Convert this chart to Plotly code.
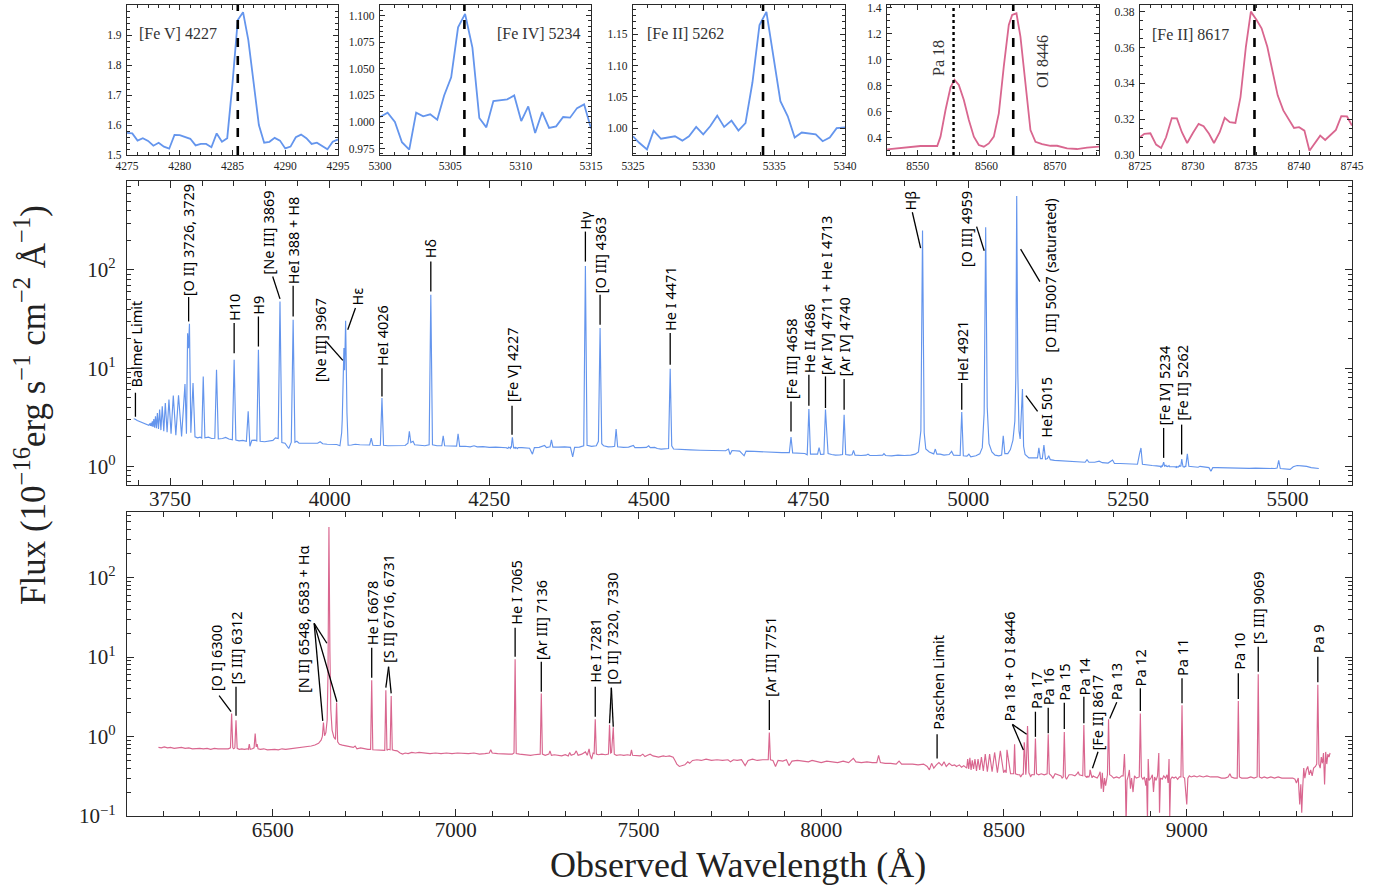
import math
import plotly.graph_objects as go

W, H = 1382, 888
BLUE = "#6495ED"
PINK = "#D9668F"
SERIF = "Liberation Serif, DejaVu Serif, serif"
SANS = "Noto Sans, DejaVu Sans, sans-serif"
AXC = "#2a2a2a"

# ---------------- DATA ----------------
# Blue arm spectrum (observed wavelength [A], flux [1e-16 erg/s/cm2/A])
blue_spectrum = [
    (3693.0, 3.05), (3695.5, 3.02), (3698.5, 2.93), (3701.5, 2.88), (3704.5, 2.80), (3707.5, 2.77),
    (3710.5, 2.70), (3713.5, 2.67), (3716.5, 2.62), (3718.3, 2.72), (3719.2, 2.58), (3720.1, 2.78),
    (3721.1, 2.56), (3722.2, 2.87), (3723.3, 2.52), (3724.5, 3.03), (3725.8, 2.48), (3727.1, 3.23),
    (3728.6, 2.44), (3730.1, 3.49), (3731.8, 2.40), (3733.6, 3.78), (3735.6, 2.34), (3737.7, 4.08),
    (3740.1, 2.28), (3742.5, 4.42), (3745.3, 2.22), (3748.2, 4.78), (3751.5, 2.15), (3755.0, 5.25),
    (3759.0, 2.08), (3763.2, 5.3), (3768.0, 2.02), (3773.3, 6.9), (3775.6, 2.15), (3777.4, 22.7),
    (3778.8, 16.0), (3780.3, 28.3), (3782.5, 2.2), (3785.9, 7.05), (3789.0, 2.0), (3793.0, 1.95),
    (3797.0, 1.98), (3799.5, 1.94), (3801.9, 8.24), (3804.5, 1.95), (3810.0, 1.98), (3815.0, 1.92),
    (3820.0, 1.93), (3822.7, 9.63), (3825.5, 1.90), (3832.0, 1.92), (3837.0, 1.97), (3842.0, 1.90),
    (3847.5, 1.86), (3850.3, 12.2), (3853.0, 1.85), (3858.0, 1.82), (3864.0, 1.84), (3869.5, 1.80),
    (3872.3, 3.63), (3875.0, 1.60), (3878.0, 1.84), (3883.0, 1.85), (3885.8, 1.82), (3888.3, 15.4),
    (3891.0, 1.80), (3898.0, 1.78), (3905.0, 1.80), (3911.0, 1.84), (3915.0, 1.95), (3919.3, 1.92),
    (3922.1, 47.8), (3925.0, 1.75), (3930.0, 1.72), (3935.8, 1.52), (3939.8, 1.76), (3942.7, 31.1),
    (3945.5, 1.76), (3948.5, 1.80), (3952.0, 1.72), (3960.0, 1.72), (3968.0, 1.70), (3976.0, 1.71),
    (3981.0, 1.72), (3985.0, 1.78), (3989.0, 1.70), (3996.0, 1.68), (4004.0, 1.66), (4011.0, 1.67),
    (4016.0, 1.62), (4018.7, 2.2), (4019.6, 2.99), (4022.2, 16.0), (4023.3, 9.5), (4024.9, 30.3),
    (4027.0, 3.5), (4028.8, 1.64), (4034.0, 1.65), (4040.0, 1.68), (4047.0, 1.66), (4055.0, 1.64),
    (4062.5, 1.65), (4065.0, 1.94), (4067.5, 1.64), (4074.0, 1.63), (4079.3, 1.64), (4081.8, 4.96),
    (4084.3, 1.64), (4091.0, 1.62), (4100.0, 1.63), (4110.0, 1.64), (4118.0, 1.63), (4122.5, 1.72),
    (4124.7, 2.27), (4127.0, 1.75), (4130.5, 1.80), (4133.0, 1.66), (4140.0, 1.63), (4149.0, 1.62),
    (4155.7, 1.66), (4158.3, 55.8), (4160.9, 1.66), (4168.0, 1.62), (4175.5, 1.62), (4177.7, 2.05),
    (4180.0, 1.62), (4190.0, 1.61), (4198.7, 1.61), (4201.0, 2.15), (4203.5, 1.60), (4212.0, 1.60),
    (4220.0, 1.58), (4226.0, 1.62), (4231.0, 1.58), (4240.0, 1.59), (4250.0, 1.56), (4260.0, 1.57),
    (4268.0, 1.56),
    (4301.0, 1.55), (4308.0, 1.54), (4313.0, 1.53), (4317.5, 1.33), (4320.5, 1.55), (4328.0, 1.56),
    (4336.5, 1.63), (4339.5, 1.55), (4345.0, 1.58), (4347.2, 1.86), (4349.5, 1.57), (4358.0, 1.57),
    (4368.0, 1.58), (4377.0, 1.56), (4380.5, 1.25), (4383.5, 1.56), (4391.0, 1.57), (4397.8, 1.62),
    (4400.4, 110.0), (4403.0, 1.64), (4410.0, 1.60), (4417.5, 1.62), (4420.8, 1.80), (4423.4, 25.6),
    (4426.0, 1.70), (4429.0, 1.62), (4436.0, 1.58), (4443.0, 1.59), (4446.2, 1.60), (4448.5, 2.40),
    (4450.9, 1.58), (4460.0, 1.56), (4468.0, 1.57), (4475.5, 1.63), (4478.0, 1.55), (4487.0, 1.55),
    (4496.0, 1.56), (4499.5, 1.62), (4502.0, 1.55), (4509.0, 1.56), (4513.0, 1.52), (4519.0, 1.50),
    (4525.0, 1.52), (4530.6, 1.52), (4533.2, 9.86), (4535.6, 1.62), (4538.5, 1.50), (4550.0, 1.48),
    (4565.0, 1.47), (4580.0, 1.46), (4595.0, 1.46), (4610.0, 1.45), (4620.0, 1.44), (4624.5, 1.50),
    (4627.0, 1.32), (4630.0, 1.45), (4642.0, 1.43), (4649.0, 1.28), (4652.0, 1.43), (4665.0, 1.42),
    (4680.0, 1.40), (4695.0, 1.39), (4708.0, 1.38), (4719.8, 1.38), (4722.4, 1.99), (4725.0, 1.37),
    (4735.0, 1.36), (4744.0, 1.35), (4747.8, 1.31), (4750.4, 3.84), (4752.9, 1.33), (4760.0, 1.32),
    (4764.0, 1.33), (4766.4, 1.55), (4768.8, 1.32), (4773.9, 1.33), (4776.4, 3.8), (4778.3, 2.3),
    (4780.5, 1.35), (4786.0, 1.32), (4792.0, 1.30), (4799.0, 1.31), (4803.1, 1.32), (4805.6, 3.36),
    (4808.1, 1.32), (4814.0, 1.30), (4818.0, 1.31), (4820.3, 1.45), (4822.7, 1.30), (4832.0, 1.29),
    (4840.0, 1.30), (4843.0, 1.33), (4846.0, 1.29), (4856.0, 1.29), (4866.0, 1.30), (4868.0, 1.35),
    (4870.5, 1.29), (4880.0, 1.28), (4890.0, 1.30), (4900.0, 1.29), (4910.0, 1.30), (4917.0, 1.33),
    (4922.0, 1.40), (4925.8, 2.3), (4928.4, 252.0), (4931.0, 2.2), (4933.5, 1.50), (4939.0, 1.40),
    (4945.9, 1.34), (4948.4, 1.50), (4950.9, 1.33), (4956.0, 1.33), (4962.0, 1.30), (4970.0, 1.32),
    (4974.0, 1.42), (4977.0, 1.30), (4985.0, 1.28), (4987.3, 1.29), (4989.8, 3.58), (4992.3, 1.28),
    (4998.0, 1.27), (5001.0, 1.33), (5004.0, 1.25), (5012.0, 1.28), (5018.0, 1.34), (5022.0, 1.55),
    (5024.9, 3.5), (5027.3, 272.0), (5029.7, 4.0), (5032.5, 1.7), (5037.0, 1.40), (5042.0, 1.30),
    (5048.0, 1.28), (5052.3, 1.30), (5054.8, 2.05), (5057.3, 1.35), (5062.0, 1.35), (5066.0, 1.48),
    (5070.0, 1.85), (5073.0, 2.9), (5074.5, 8.0), (5075.9, 567.0), (5077.6, 9.0), (5079.5, 2.3),
    (5081.3, 1.9), (5083.2, 3.6), (5084.9, 6.13), (5086.7, 1.6), (5089.0, 1.32), (5095.0, 1.22),
    (5103.0, 1.21), (5108.5, 1.22), (5110.6, 1.54), (5113.0, 1.20), (5116.0, 1.20), (5118.5, 1.65),
    (5121.0, 1.18), (5124.0, 1.20), (5126.0, 1.28), (5128.5, 1.17), (5135.0, 1.15), (5145.0, 1.14),
    (5155.0, 1.13), (5165.0, 1.12), (5175.0, 1.11), (5183.0, 1.10), (5186.0, 1.17), (5189.0, 1.10),
    (5198.0, 1.10), (5205.0, 1.13), (5210.0, 1.09), (5219.0, 1.08), (5226.0, 1.16), (5229.0, 1.07),
    (5238.0, 1.07), (5248.0, 1.06), (5257.0, 1.05), (5265.0, 1.05), (5268.3, 1.35), (5270.5, 1.54),
    (5272.8, 1.05), (5280.0, 1.03), (5288.0, 1.02), (5295.0, 1.01),
    (5318.0, 1.00), (5321.0, 0.99),
    (5340.7, 1.00), (5343.1, 1.34), (5345.5, 1.00), (5352.0, 0.99), (5360.0, 0.98), (5363.0, 1.00),
    (5370.0, 0.98), (5377.0, 0.97), (5380.0, 0.89), (5383.0, 0.97), (5390.0, 0.97), (5400.0, 0.965),
    (5410.0, 0.97), (5420.0, 0.96), (5430.0, 0.965), (5440.0, 0.955), (5450.0, 0.96), (5460.0, 0.955),
    (5470.0, 0.95), (5480.0, 0.95), (5483.7, 0.96), (5486.2, 1.15), (5488.7, 0.95), (5495.0, 0.94),
    (5500.0, 0.92), (5504.0, 0.93), (5509.0, 0.99), (5515.0, 1.02), (5522.0, 1.01), (5530.0, 1.00),
    (5537.0, 0.97), (5544.0, 0.96), (5549.0, 0.95),
]

# Red arm spectrum
red_spectrum = [
    (6187, 0.73), (6195, 0.72), (6203, 0.74), (6212, 0.72), (6220, 0.73), (6230, 0.71), (6240, 0.72),
    (6250, 0.73), (6260, 0.71), (6270, 0.72), (6280, 0.70), (6290, 0.71), (6300, 0.71), (6310, 0.70),
    (6320, 0.71), (6330, 0.69), (6340, 0.71), (6350, 0.70), (6360, 0.70), (6370, 0.69), (6378, 0.70),
    (6384, 0.72), (6387.2, 1.95), (6390.4, 0.72), (6393, 0.70), (6396, 0.72), (6399.2, 1.60),
    (6402.4, 0.71), (6408, 0.69), (6415, 0.70), (6422, 0.69), (6430, 0.70), (6433, 0.69), (6435.5, 0.80),
    (6438, 0.69), (6444, 0.70), (6448.6, 0.72), (6451.6, 1.09), (6454.5, 0.74), (6457, 0.80),
    (6459.5, 0.70), (6466, 0.69), (6475, 0.70), (6485, 0.68), (6495, 0.69), (6505, 0.69), (6515, 0.68),
    (6525, 0.70), (6535, 0.69), (6545, 0.70), (6555, 0.71), (6565, 0.71), (6575, 0.72), (6585, 0.73),
    (6595, 0.74), (6605, 0.76), (6615, 0.78), (6625, 0.82), (6632, 0.90), (6635.4, 1.0), (6638.4, 1.50),
    (6641.4, 1.02), (6645, 1.12), (6648.5, 1.6), (6650.8, 6.0), (6653.4, 433.0), (6656, 12.0),
    (6658.5, 2.2), (6662, 1.20), (6667, 0.98), (6671.3, 0.92), (6674.3, 2.68), (6677.3, 0.86),
    (6682, 0.80), (6690, 0.78), (6700, 0.76), (6710, 0.75), (6720, 0.73), (6725, 0.76), (6730, 0.70),
    (6740, 0.72), (6750, 0.70), (6760, 0.69), (6767.4, 0.69), (6770.4, 5.11), (6773.4, 0.68),
    (6780, 0.68), (6790, 0.67), (6800, 0.67), (6806.1, 0.67), (6809.1, 3.82), (6812.1, 0.67),
    (6816, 0.69), (6820.7, 0.68), (6823.7, 3.24), (6826.7, 0.68), (6832, 0.67), (6840, 0.66),
    (6848, 0.62), (6855, 0.60), (6862, 0.62), (6870, 0.61), (6880, 0.63), (6890, 0.62), (6900, 0.63),
    (6915, 0.62), (6930, 0.61), (6945, 0.62), (6960, 0.61), (6975, 0.62), (6990, 0.61), (7005, 0.62),
    (7020, 0.61), (7035, 0.61), (7050, 0.62), (7065, 0.60), (7080, 0.61), (7092, 0.62), (7096, 0.68),
    (7100, 0.62), (7115, 0.61), (7130, 0.60), (7145, 0.60), (7155, 0.60), (7159.7, 0.62),
    (7162.7, 9.38), (7165.7, 0.61), (7175, 0.60), (7190, 0.59), (7205, 0.58), (7215, 0.59),
    (7226, 0.59), (7231.3, 0.60), (7234.3, 3.47), (7237.3, 0.60), (7245, 0.58), (7255, 0.60),
    (7258, 0.66), (7262, 0.58), (7270, 0.59), (7280, 0.58), (7290, 0.57), (7300, 0.59), (7308, 0.57),
    (7312, 0.63), (7316, 0.58), (7325, 0.60), (7330, 0.66), (7335, 0.58), (7345, 0.60), (7355, 0.64),
    (7360, 0.58), (7365, 0.70), (7368, 0.58), (7372, 0.52), (7376, 0.62), (7378.9, 0.61),
    (7381.9, 1.65), (7384.9, 0.60), (7390, 0.59), (7400, 0.60), (7410, 0.59), (7418, 0.60),
    (7421.0, 1.40), (7424, 0.62), (7426.5, 0.63), (7431.2, 1.31), (7434, 0.60), (7440, 0.58),
    (7450, 0.59), (7460, 0.58), (7470, 0.59), (7478, 0.58), (7481, 0.68), (7484, 0.58), (7495, 0.58),
    (7505, 0.57), (7512, 0.60), (7518, 0.56), (7525, 0.58), (7532, 0.60), (7540, 0.57), (7555, 0.55),
    (7568, 0.57), (7575, 0.56), (7585, 0.57), (7595, 0.55), (7600, 0.50), (7605, 0.45), (7612, 0.42),
    (7620, 0.43), (7627, 0.44), (7635, 0.48), (7640, 0.46), (7648, 0.50), (7660, 0.51), (7672, 0.50),
    (7685, 0.52), (7700, 0.50), (7715, 0.51), (7730, 0.50), (7745, 0.51), (7752, 0.48), (7760, 0.51),
    (7770, 0.50), (7782, 0.51), (7792, 0.43), (7800, 0.50), (7812, 0.52), (7825, 0.50), (7840, 0.51),
    (7855.1, 0.51), (7858.1, 1.12), (7861.1, 0.51), (7868, 0.50), (7875, 0.42), (7882, 0.50),
    (7895, 0.49), (7905, 0.51), (7912, 0.43), (7920, 0.49), (7935, 0.50), (7950, 0.49), (7965, 0.48),
    (7975, 0.50), (7990, 0.48), (8000, 0.47), (8015, 0.49), (8030, 0.48), (8045, 0.47), (8060, 0.49),
    (8075, 0.47), (8088, 0.53), (8095, 0.48), (8110, 0.47), (8125, 0.48), (8140, 0.47), (8152, 0.47),
    (8157, 0.58), (8162, 0.47), (8175, 0.46), (8190, 0.46), (8205, 0.45), (8213, 0.49), (8220, 0.45),
    (8235, 0.45), (8250, 0.45), (8265, 0.44), (8280, 0.45), (8290, 0.42), (8296, 0.38), (8302, 0.46),
    (8308, 0.40), (8315, 0.44), (8322, 0.47), (8330, 0.43), (8336, 0.48), (8342, 0.42), (8350, 0.46),
    (8358, 0.43), (8365, 0.44), (8370, 0.42), (8378, 0.44), (8384, 0.41), (8390, 0.43), (8398, 0.40),
    (8400.7, 0.52), (8403.5, 0.39), (8406.7, 0.54), (8410, 0.38), (8413.3, 0.50), (8416.8, 0.39),
    (8420.6, 0.52), (8424.8, 0.37), (8429.0, 0.52), (8433.5, 0.38), (8438.3, 0.55), (8443.5, 0.37),
    (8448.8, 0.60), (8454.5, 0.36), (8460.7, 0.60), (8467.5, 0.36), (8474.4, 0.63), (8482, 0.35),
    (8490.0, 0.66), (8499, 0.35), (8503, 0.38), (8506, 0.35), (8508.2, 0.68), (8518, 0.34),
    (8526.5, 0.34), (8529.0, 0.80), (8531.5, 0.34), (8538, 0.33), (8543, 0.33),
    (8580, 0.33), (8583, 0.33), (8586, 0.94), (8589, 0.34), (8595, 0.33), (8602, 0.34), (8610, 0.33),
    (8618, 0.34), (8621, 1.07), (8624, 0.34), (8630, 0.32), (8634, 0.30), (8640, 0.34), (8650, 0.33),
    (8656, 0.32), (8659, 0.30), (8662, 0.31), (8665, 1.14), (8668, 0.31), (8671, 0.29), (8678, 0.33),
    (8686, 0.33), (8694, 0.32), (8700, 0.34), (8703, 0.36), (8706, 0.33), (8712, 0.32), (8715.5, 0.32),
    (8718.5, 1.40), (8721.5, 0.32),
    (8750, 0.31), (8755, 0.30), (8760, 0.33), (8763, 0.36), (8766, 0.22), (8769, 0.35), (8772, 0.20),
    (8775, 0.30), (8778, 0.24), (8781, 0.32), (8783, 0.33), (8786, 1.65), (8789, 0.33), (8794, 0.32),
    (8800, 0.30), (8808, 0.31), (8815, 0.30), (8822, 0.32), (8826, 0.32), (8829.5, 0.60), (8832, 0.30),
    (8834, 0.08), (8836.5, 0.28), (8840, 0.32), (8843, 0.38), (8846, 0.22), (8849, 0.30), (8853, 0.20),
    (8857, 0.32), (8862, 0.30), (8867, 0.31), (8870, 0.31), (8873, 1.95), (8876, 0.31), (8880, 0.29),
    (8884, 0.31), (8888, 0.24), (8890, 0.30), (8892.5, 0.09), (8894.5, 0.52), (8897, 0.28), (8902, 0.30),
    (8906, 0.33), (8909, 0.20), (8912, 0.31), (8916, 0.28), (8920, 0.32), (8923.5, 0.62), (8925.5, 0.11),
    (8928, 0.30), (8933, 0.29), (8937, 0.32), (8942, 0.30), (8946, 0.33), (8949, 0.26), (8951.5, 0.52),
    (8953.5, 0.10), (8956, 0.29), (8960, 0.31), (8965, 0.30), (8970, 0.31), (8975, 0.29), (8980, 0.31),
    (8984, 0.31), (8987, 2.48), (8990, 0.31), (8994, 0.30), (8997, 0.20), (9000, 0.14), (9003, 0.30),
    (9007, 0.32), (9012, 0.31), (9020, 0.32), (9028, 0.31), (9035, 0.32), (9045, 0.31), (9055, 0.32),
    (9065, 0.31), (9075, 0.31), (9085, 0.31), (9095, 0.30), (9105, 0.30), (9113, 0.31), (9118, 0.34),
    (9122, 0.31), (9130, 0.30), (9138, 0.30), (9141, 2.80), (9144, 0.31), (9150, 0.30), (9158, 0.30),
    (9166, 0.30), (9175, 0.31), (9184, 0.30), (9192.5, 0.31), (9195.5, 6.08), (9198.5, 0.31),
    (9205, 0.30), (9212, 0.31), (9220, 0.30), (9230, 0.31), (9240, 0.30), (9250, 0.31), (9260, 0.30),
    (9270, 0.30), (9280, 0.30), (9290, 0.30), (9296, 0.29), (9300, 0.26), (9305, 0.30), (9309, 0.14),
    (9312, 0.25), (9314.5, 0.11), (9317, 0.22), (9320, 0.40), (9323, 0.30), (9327, 0.38), (9331, 0.42),
    (9335, 0.33), (9339, 0.38), (9343, 0.32), (9347, 0.40), (9352, 0.42), (9355.5, 0.45),
    (9358.5, 4.46), (9361.5, 0.45), (9365, 0.40), (9368, 0.55), (9371, 0.46), (9374, 0.62),
    (9377, 0.25), (9380, 0.64), (9383, 0.45), (9386, 0.60), (9389, 0.55), (9392, 0.62),
]

# Inset zooms
inset1_wl = [4275.0, 4275.5, 4276.0, 4276.5, 4277.0, 4277.5, 4278.0, 4278.5, 4279.0, 4279.5, 4280.0,
             4280.5, 4281.0, 4281.5, 4282.0, 4282.5, 4283.0, 4283.5, 4284.0, 4284.5, 4285.0, 4285.5,
             4286.0, 4286.5, 4287.0, 4287.5, 4288.0, 4288.5, 4289.0, 4289.5, 4290.0, 4290.5, 4291.0,
             4291.5, 4292.0, 4292.5, 4293.0, 4293.5, 4294.0, 4294.5, 4295.0]
inset1_flux = [1.574, 1.572, 1.548, 1.556, 1.547, 1.531, 1.541, 1.528, 1.521, 1.567, 1.566, 1.560,
               1.554, 1.532, 1.537, 1.537, 1.526, 1.572, 1.544, 1.556, 1.739, 1.950, 1.976, 1.883,
               1.739, 1.600, 1.541, 1.544, 1.557, 1.548, 1.522, 1.528, 1.559, 1.568, 1.556, 1.537,
               1.541, 1.531, 1.519, 1.544, 1.552]
inset2_wl = [5300.0, 5300.54, 5301.06, 5301.56, 5302.08, 5302.57, 5303.07, 5303.57, 5304.07, 5304.56,
             5305.06, 5305.55, 5306.05, 5306.57, 5307.06, 5307.56, 5308.06, 5308.55, 5309.05, 5309.54,
             5310.04, 5310.54, 5311.03, 5311.53, 5312.02, 5312.52, 5313.02, 5313.51, 5314.01, 5314.51,
             5315.0]
inset2_flux = [1.0047, 1.0088, 1.000, 0.981, 0.974, 1.0088, 1.0053, 1.0072, 1.0022, 1.025, 1.042,
               1.089, 1.1016, 1.070, 1.0038, 0.995, 1.0197, 1.0203, 1.0213, 1.025, 1.0009, 1.0147,
               0.9897, 1.0094, 0.9944, 0.9959, 1.0047, 1.0041, 1.0131, 1.0166, 0.9938]
inset3_wl = [5325.0, 5325.42, 5325.99, 5326.46, 5326.98, 5327.47, 5327.97, 5328.49, 5328.96, 5329.47,
             5329.97, 5330.46, 5330.96, 5331.45, 5331.97, 5332.46, 5332.96, 5333.45, 5333.95, 5334.44,
             5334.94, 5335.43, 5335.95, 5336.44, 5336.94, 5337.43, 5337.93, 5338.42, 5338.92, 5339.41,
             5340.0]
inset3_flux = [0.987, 0.977, 0.966, 0.996, 0.983, 0.985, 0.987, 0.980, 0.987, 1.002, 0.990, 1.003,
               1.020, 1.002, 1.012, 0.996, 1.008, 1.073, 1.165, 1.186, 1.114, 1.043, 1.019, 0.985,
               0.993, 0.992, 0.990, 0.979, 0.985, 1.000, 1.001]
inset4_wl = [8545.53, 8547.2, 8548.8, 8550.39, 8552.82, 8553.30, 8554.03, 8554.76, 8555.34, 8555.97,
             8556.70, 8557.43, 8558.16, 8558.88, 8559.61, 8560.34, 8561.07, 8561.80, 8562.52, 8563.25,
             8563.74, 8564.37, 8564.95, 8565.68, 8566.41, 8567.14, 8568.11, 8569.32, 8570.29, 8571.75,
             8573.20, 8574.66, 8576.46]
inset4_flux = [0.310, 0.318, 0.330, 0.336, 0.336, 0.408, 0.613, 0.787, 0.844, 0.805, 0.690, 0.536,
               0.408, 0.344, 0.331, 0.356, 0.408, 0.587, 0.946, 1.267, 1.344, 1.356, 1.177, 0.818,
               0.459, 0.369, 0.351, 0.338, 0.338, 0.318, 0.313, 0.323, 0.331]
inset5_wl = [8725.0, 8725.41, 8725.98, 8726.52, 8726.99, 8727.46, 8728.0, 8728.48, 8728.95, 8729.45,
             8729.99, 8730.53, 8731.0, 8731.51, 8731.98, 8732.52, 8732.99, 8733.47, 8734.0, 8734.48,
             8734.99, 8735.46, 8736.0, 8736.47, 8737.01, 8737.48, 8737.99, 8738.52, 8739.0, 8739.53,
             8740.01, 8740.51, 8740.99, 8741.46, 8742.0, 8742.47, 8743.01, 8743.48, 8743.99, 8744.53,
             8745.0]
inset5_flux = [0.3099, 0.3118, 0.3121, 0.3058, 0.3039, 0.3099, 0.3206, 0.3204, 0.3127, 0.3067,
               0.3123, 0.3174, 0.3161, 0.3118, 0.3067, 0.3127, 0.3207, 0.3183, 0.3179, 0.3323,
               0.3604, 0.3800, 0.3753, 0.3707, 0.3604, 0.3473, 0.3333, 0.3249, 0.3202, 0.3151,
               0.3155, 0.3136, 0.3024, 0.3062, 0.3108, 0.3084, 0.3112, 0.3140, 0.3217, 0.3215,
               0.3164]

# Line identifications: (text, text x, text-bottom flux, leader segments (x0, f0, x1, f1))
blue_labels = [
    ("Balmer Limit", 3697, 6.17, [(3695.7, 5.62, 3695.7, 3.2)]),
    ("[O II] 3726, 3729", 3778.5, 53.2, [(3779, 53, 3779, 29.9)]),
    ("H10", 3850.3, 29.3, [(3850.3, 28.8, 3850.3, 14.2)]),
    ("H9", 3888.3, 34.1, [(3888.3, 33.6, 3888.3, 16.6)]),
    ("[Ne III] 3869", 3903, 87.1, [(3910.7, 85.7, 3922.1, 50.8)]),
    ("HeI 388 + H8", 3943, 69.7, [(3942.7, 68.9, 3942.7, 33.6)]),
    ("[Ne III] 3967", 3984, 6.94, [(3994.4, 18.7, 4020.5, 12.0)]),
    ("Hε", 4042.4, 42.2, [(4040.3, 40.9, 4028.2, 24.6)]),
    ("HeI 4026", 4081.8, 10.4, [(4081.8, 10.0, 4081.8, 5.15)]),
    ("Hδ", 4158.3, 129.7, [(4158.3, 121.7, 4158.3, 60.3)]),
    ("[Fe V] 4227", 4285.5, 4.35, [(4285.5, 4.14, 4285.5, 2.10)]),
    ("Hγ", 4400.4, 250, [(4400.4, 246, 4400.4, 121.7)]),
    ("[O III] 4363", 4423.4, 56.5, [(4423.4, 55.8, 4423.4, 27.6)]),
    ("He I 4471", 4533.2, 23.2, [(4533.2, 22.8, 4533.2, 10.8)]),
    ("[Fe III] 4658", 4722.4, 4.66, [(4722.4, 4.58, 4722.4, 2.27)]),
    ("He II 4686", 4750.4, 8.77, [(4750.4, 8.57, 4750.4, 4.14)]),
    ("[Ar IV] 4711 + He I 4713", 4776.4, 8.37, [(4776.4, 8.24, 4776.4, 3.93)]),
    ("[Ar IV] 4740", 4805.6, 7.98, [(4805.6, 7.75, 4805.6, 3.77)]),
    ("Hβ", 4908.2, 390, [(4912.4, 387, 4925.4, 167)]),
    ("[O III] 4959", 4996.4, 104, [(5013.1, 276, 5025, 157)]),
    ("HeI 4921", 4989.8, 7.19, [(4989.8, 7.05, 4989.8, 3.77)]),
    ("[O III] 5007 (saturated)", 5127.8, 14.0, [(5112.2, 76.2, 5082, 163)]),
    ("HeI 5015", 5122.7, 1.91, [(5108.6, 3.63, 5090.3, 5.24)]),
    ("[Fe IV] 5234", 5306.0, 2.53, [(5306.0, 2.46, 5306.0, 1.22)]),
    ("[Fe II] 5262", 5334.2, 2.82, [(5334.2, 2.66, 5334.2, 1.32)]),
]
red_labels = [
    ("[O I] 6300", 6346.7, 3.63, [(6353, 3.26, 6385.8, 2.05)]),
    ("[S III] 6312", 6399.2, 4.32, [(6399.2, 4.23, 6399.2, 1.83)]),
    ("[N II] 6548, 6583 + Hα", 6582.1, 3.40, [(6613, 26.5, 6636.5, 1.57), (6613, 26.5, 6647.8, 14.9),
                                              (6613, 26.5, 6675.2, 2.74)]),
    ("He I 6678", 6770.4, 13.7, [(6770.4, 13.1, 6770.4, 5.49)]),
    ("[S II] 6716, 6731", 6816.5, 8.17, [(6816.5, 7.55, 6809.1, 4.11), (6816.5, 7.55, 6823.7, 3.49)]),
    ("He I 7065", 7162.7, 24.5, [(7162.7, 23.4, 7162.7, 10.1)]),
    ("[Ar III] 7136", 7234.3, 8.91, [(7234.3, 8.73, 7234.3, 3.66)]),
    ("He I 7281", 7381.9, 4.58, [(7381.9, 4.23, 7381.9, 1.77)]),
    ("[O II] 7320, 7330", 7427, 4.32, [(7426, 4.11, 7421.0, 1.47), (7426, 4.11, 7431.2, 1.33)]),
    ("[Ar III] 7751", 7858.1, 3.09, [(7858.1, 2.88, 7858.1, 1.21)]),
    ("Paschen Limit", 8317, 1.17, [(8317, 1.07, 8317, 0.53)]),
    ("Pa 18 + O I 8446", 8513.7, 1.50, [(8523, 1.42, 8553.1, 0.676), (8523, 1.42, 8562, 1.07)]),
    ("Pa 17", 8586, 2.15, [(8586, 2.05, 8586, 0.99)]),
    ("Pa 16", 8621, 2.38, [(8621, 2.30, 8621, 1.10)]),
    ("Pa 15", 8665, 2.72, [(8665, 2.66, 8665, 1.24)]),
    ("Pa 14", 8718.5, 3.23, [(8718.5, 3.17, 8718.5, 1.47)]),
    ("[Fe II] 8617", 8755.6, 0.657, [(8757.3, 0.644, 8742, 0.398)]),
    ("Pa 13", 8808.5, 2.80, [(8808.5, 2.69, 8789.3, 1.69)]),
    ("Pa 12", 8873, 4.13, [(8873, 4.04, 8873, 2.1)]),
    ("Pa 11", 8987, 5.52, [(8987, 5.40, 8987, 2.62)]),
    ("Pa 10", 9141, 6.66, [(9141, 6.24, 9141, 2.96)]),
    ("[S III] 9069", 9195.5, 13.9, [(9195.5, 13.5, 9195.5, 6.53)]),
    ("Pa 9", 9358.5, 10.9, [(9358.5, 10.1, 9358.5, 4.81)]),
]

# Inset definitions: wl, flux, colour, x range, y range, x ticks, y ticks, marker lines
insets = [
    dict(wl=inset1_wl, fl=inset1_flux, c=BLUE, xr=[4275, 4295], yr=[1.5, 2.0],
         xt=(4275, 5, 1), yt=(1.5, 0.1, 0.02), yf=".1f", lines=[(4285.5, "dash")]),
    dict(wl=inset2_wl, fl=inset2_flux, c=BLUE, xr=[5300, 5315], yr=[0.969, 1.110],
         xt=(5300, 5, 1), yt=(0.975, 0.025, 0.005), yf=".3f", lines=[(5306.0, "dash")]),
    dict(wl=inset3_wl, fl=inset3_flux, c=BLUE, xr=[5325, 5340], yr=[0.957, 1.197],
         xt=(5325, 5, 1), yt=(1.0, 0.05, 0.01), yf=".2f", lines=[(5334.2, "dash")]),
    dict(wl=inset4_wl, fl=inset4_flux, c=PINK, xr=[8545.5, 8576.4], yr=[0.267, 1.42],
         xt=(8550, 10, 2), yt=(0.4, 0.2, 0.05), yf=".1f", lines=[(8555.2, "dot"), (8563.9, "dash")]),
    dict(wl=inset5_wl, fl=inset5_flux, c=PINK, xr=[8725, 8745], yr=[0.30, 0.3837],
         xt=(8725, 5, 1), yt=(0.30, 0.02, 0.005), yf=".2f", lines=[(8735.8, "dash")]),
]

# ---------------- LAYOUT HELPERS ----------------
def dom_x(a, b):
    return [a / W, b / W]


def dom_y(top, bottom):
    return [1 - bottom / H, 1 - top / H]


fig = go.Figure()

main1 = sorted(blue_spectrum + list(zip(inset1_wl, inset1_flux)) + list(zip(inset2_wl, inset2_flux))
               + list(zip(inset3_wl, inset3_flux)))
main2 = sorted(red_spectrum + list(zip(inset4_wl, inset4_flux)) + list(zip(inset5_wl, inset5_flux)))

fig.add_trace(go.Scatter(x=[p[0] for p in main1], y=[p[1] for p in main1], mode="lines",
                         line=dict(color=BLUE, width=1.15), xaxis="x", yaxis="y",
                         showlegend=False, hoverinfo="skip"))
fig.add_trace(go.Scatter(x=[p[0] for p in main2], y=[p[1] for p in main2], mode="lines",
                         line=dict(color=PINK, width=1.15), xaxis="x2", yaxis="y2",
                         showlegend=False, hoverinfo="skip"))

annotations = []


def add_labels(labels, xa, ya):
    xs, ys = [], []
    for text, tx, ty, segs in labels:
        for x0, f0, x1, f1 in segs:
            xs += [x0, x1, None]
            ys += [f0, f1, None]
        annotations.append(dict(x=tx, y=math.log10(ty), xref=xa, yref=ya, text=text, textangle=-90,
                                xanchor="center", yanchor="bottom", showarrow=False, borderpad=0,
                                font=dict(family=SANS, size=14.5, color="black")))
    fig.add_trace(go.Scatter(x=xs, y=ys, mode="lines", line=dict(color="black", width=1.3),
                             xaxis=xa, yaxis=ya, showlegend=False, hoverinfo="skip"))


add_labels(blue_labels, "x", "y")
add_labels(red_labels, "x2", "y2")

common_ax = dict(showline=True, mirror="allticks", linecolor=AXC, linewidth=1.3, ticks="inside",
                 tickcolor=AXC, showgrid=False, zeroline=False, automargin=False)

main_font = dict(family=SERIF, size=21, color="#222")
inset_font = dict(family=SERIF, size=11.5, color="#222")

layout = dict(
    width=W, height=H, margin=dict(l=0, r=0, t=0, b=0), template="none",
    paper_bgcolor="white", plot_bgcolor="white", showlegend=False,
    xaxis=dict(common_ax, domain=dom_x(127, 1352), anchor="y", range=[3682.5, 5601],
               tickmode="linear", tick0=3750, dtick=250, ticklen=7, tickfont=main_font,
               ticklabelstandoff=-5,
               minor=dict(ticks="inside", ticklen=5, tick0=3750, dtick=50, tickcolor=AXC, showgrid=False)),
    yaxis=dict(common_ax, domain=dom_y(181, 485), anchor="x", type="log", range=[-0.19, 2.906],
               tickmode="array", tickvals=[1, 10, 100],
               ticktext=["10<sup>0</sup>", "10<sup>1</sup>", "10<sup>2</sup>"], ticklen=7,
               tickfont=main_font, ticklabelstandoff=6,
               minor=dict(ticks="inside", ticklen=4, tickcolor=AXC, showgrid=False,
                          tickvals=[0.7, 0.8, 0.9, 2, 3, 4, 5, 6, 7, 8, 9, 20, 30, 40, 50, 60, 70, 80, 90,
                                    200, 300, 400, 500, 600, 700])),
    xaxis2=dict(common_ax, domain=dom_x(127, 1352), anchor="y2", range=[6101, 9452],
                tickmode="linear", tick0=6500, dtick=500, ticklen=7, tickfont=main_font,
                ticklabelstandoff=-5,
                minor=dict(ticks="inside", ticklen=5, tick0=6500, dtick=100, tickcolor=AXC, showgrid=False)),
    yaxis2=dict(common_ax, domain=dom_y(512, 816), anchor="x2", type="log", range=[-1, 2.824],
                tickmode="array", tickvals=[0.1, 1, 10, 100],
                ticktext=["10<sup>−1</sup>", "10<sup>0</sup>", "10<sup>1</sup>", "10<sup>2</sup>"],
                ticklen=7, tickfont=main_font, ticklabelstandoff=6,
                minor=dict(ticks="inside", ticklen=4, tickcolor=AXC, showgrid=False,
                           tickvals=[0.2, 0.3, 0.4, 0.5, 0.6, 0.7, 0.8, 0.9, 2, 3, 4, 5, 6, 7, 8, 9,
                                     20, 30, 40, 50, 60, 70, 80, 90, 200, 300, 400, 500, 600])),
)

inset_px = [(127, 338), (380, 591), (633, 845), (887, 1099), (1140, 1352)]
shapes = []
for i, (ins, (xa, xb)) in enumerate(zip(insets, inset_px)):
    n = i + 3
    xk, yk = f"xaxis{n}", f"yaxis{n}"
    xr, yr = f"x{n}", f"y{n}"
    layout[xk] = dict(common_ax, domain=dom_x(xa, xb), anchor=yr, range=ins["xr"], tickmode="linear",
                      tick0=ins["xt"][0], dtick=ins["xt"][1], ticklen=5, tickfont=inset_font,
                      ticklabelstandoff=0,
                      minor=dict(ticks="inside", ticklen=3, tick0=ins["xt"][0], dtick=ins["xt"][2],
                                 tickcolor=AXC, showgrid=False))
    layout[yk] = dict(common_ax, domain=dom_y(5, 155), anchor=xr, range=ins["yr"], tickmode="linear",
                      tick0=ins["yt"][0], dtick=ins["yt"][1], ticklen=5, tickfont=inset_font,
                      tickformat=ins["yf"], ticklabelstandoff=2,
                      minor=dict(ticks="inside", ticklen=3, tick0=ins["yt"][0], dtick=ins["yt"][2],
                                 tickcolor=AXC, showgrid=False))
    fig.add_trace(go.Scatter(x=ins["wl"], y=ins["fl"], mode="lines", line=dict(color=ins["c"], width=1.8),
                             xaxis=xr, yaxis=yr, showlegend=False, hoverinfo="skip"))
    for lx, dash in ins["lines"]:
        shapes.append(dict(type="line", xref=xr, yref=f"{yr} domain", x0=lx, x1=lx, y0=0, y1=1,
                           line=dict(color="black", width=2.6 if dash == "dash" else 2.4, dash=dash)))

# Inset labels (paper coordinates)
def paper(px, py):
    return px / W, 1 - py / H


inset_texts = [
    ("[Fe V] 4227", 137, 34, "left", 0),
    ("[Fe IV] 5234", 583, 34, "right", 0),
    ("[Fe II] 5262", 645, 34, "left", 0),
    ("Pa 18", 938, 58, "center", -90),
    ("OI 8446", 1043, 62, "center", -90),
    ("[Fe II] 8617", 1150, 35, "left", 0),
]
for t, px, py, xa, ang in inset_texts:
    x, y = paper(px, py)
    annotations.append(dict(x=x, y=y, xref="paper", yref="paper", text=t, showarrow=False,
                            xanchor=xa, yanchor="middle", textangle=ang,
                            font=dict(family=SERIF, size=16, color="#333")))

# Axis titles
x, y = paper(738, 865)
annotations.append(dict(x=x, y=y, xref="paper", yref="paper", text="Observed Wavelength (Å)",
                        showarrow=False, xanchor="center", yanchor="middle",
                        font=dict(family=SERIF, size=36, color="#222")))
x, y = paper(30, 405)
annotations.append(dict(x=x, y=y, xref="paper", yref="paper",
                        text="Flux (10<sup>−16</sup>erg s<sup>−1</sup> cm<sup>−2</sup> Å<sup>−1</sup>)",
                        showarrow=False, xanchor="center", yanchor="middle", textangle=-90,
                        font=dict(family=SERIF, size=35, color="#222")))

layout["annotations"] = annotations
layout["shapes"] = shapes
fig.update_layout(**layout)

fig.write_html("out.html")
